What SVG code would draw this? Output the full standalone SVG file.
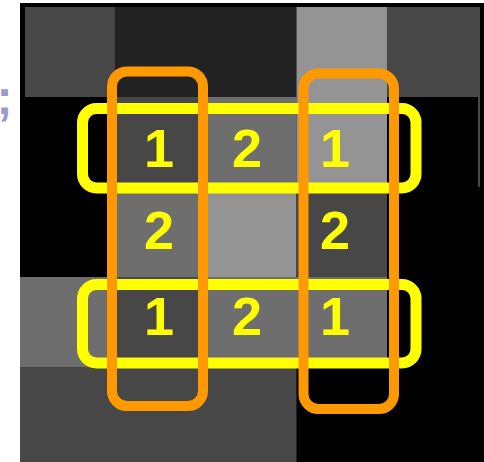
<svg xmlns="http://www.w3.org/2000/svg" width="484" height="462" viewBox="0 0 484 462">
<style>
.c0{fill:#000000}.c1{fill:#222222}.c2{fill:#474747}.c3{fill:#6e6e6e}.c4{fill:#949494}
.y{fill:none;stroke:#ffff00;stroke-width:11}
.o{fill:none;stroke:#ff9900;stroke-width:10}
.n{font-family:"Liberation Sans",Arial,sans-serif;font-weight:bold;font-size:54px;fill:#ffff00;text-anchor:middle}
</style>
<rect x="0" y="0" width="484" height="462" fill="#ffffff"/>
<text x="-3.5" y="114" font-family="Liberation Sans, Arial, sans-serif" font-weight="bold" font-size="48" fill="#9a9acc">;</text>
<g id="grid">
<rect x="20" y="3" width="464" height="459" class="c0"/>
<rect x="25" y="7" width="90.5" height="90" class="c2"/>
<rect x="115.5" y="7" width="181" height="90" class="c1"/>
<rect x="296.5" y="7" width="90.5" height="90" class="c4"/>
<rect x="387" y="7" width="93" height="90" class="c2"/>
<rect x="115.5" y="97" width="90.5" height="90" class="c2"/>
<rect x="206" y="97" width="90.5" height="90" class="c3"/>
<rect x="296.5" y="97" width="90.5" height="90" class="c4"/>
<rect x="478" y="97" width="2" height="90" class="c2"/>
<rect x="115.5" y="187" width="90.5" height="90" class="c3"/>
<rect x="206" y="187" width="90.5" height="90" class="c4"/>
<rect x="296.5" y="187" width="90.5" height="90" class="c2"/>
<rect x="20" y="277" width="95.5" height="90" class="c3"/>
<rect x="115.5" y="277" width="90.5" height="90" class="c2"/>
<rect x="206" y="277" width="181" height="90" class="c3"/>
<rect x="20" y="367" width="276.5" height="95" class="c2"/>
</g>
<g id="labels">
<text x="159" y="167" class="n">1</text>
<text x="247" y="167" class="n">2</text>
<text x="335" y="167" class="n">1</text>
<text x="159" y="249" class="n">2</text>
<text x="335" y="249" class="n">2</text>
<text x="159" y="335" class="n">1</text>
<text x="247" y="335" class="n">2</text>
<text x="335" y="335" class="n">1</text>
</g>
<g id="rows">
<rect id="row-top" x="82.5" y="108.5" width="333.5" height="79.5" rx="14" class="y"/>
<rect id="row-bottom" x="82.5" y="284.5" width="333.5" height="78.5" rx="14" class="y"/>
</g>
<g id="columns">
<rect id="col-left" x="112" y="71.5" width="91" height="334.5" rx="15" class="o"/>
<rect id="col-right" x="303.5" y="73.5" width="90.5" height="335.5" rx="15" class="o"/>
</g>
</svg>
